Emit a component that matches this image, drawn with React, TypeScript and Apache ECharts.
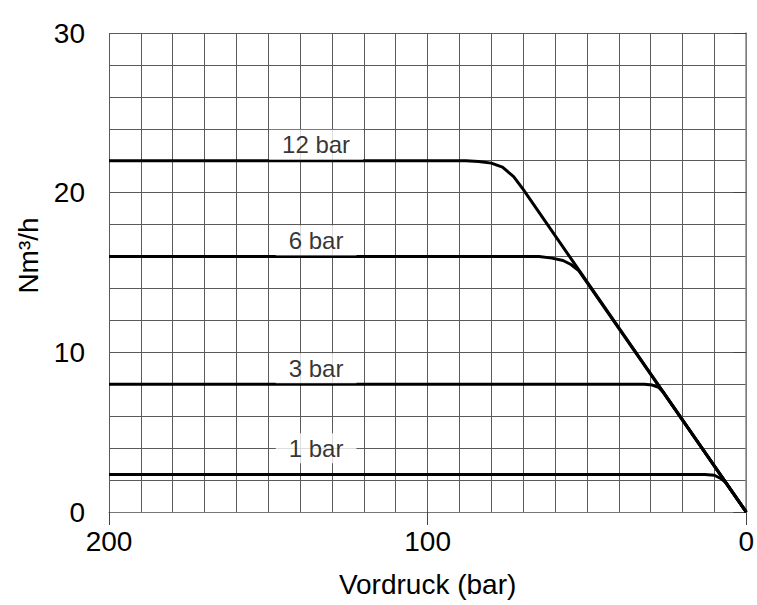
import React, { useEffect, useRef } from "react";
import * as echarts from "echarts";

// Vordruck (bar) and flow (Nm³/h) for each outlet pressure curve
const vordruck12 = [200, 88, 84, 80, 76.5, 73, 70, 0];
const flow12 = [22, 22, 21.95, 21.85, 21.6, 21.0, 20.2, 0];

const vordruck6 = [200, 65, 61, 57.5, 55, 52.5, 0];
const flow6 = [16, 16, 15.9, 15.75, 15.5, 15.1, 0];

const vordruck3 = [200, 32, 29.5, 27.5, 26, 0];
const flow3 = [8, 8, 7.95, 7.8, 7.5, 0];

const vordruck1 = [200, 13, 10, 8, 6.5, 0];
const flow1 = [2.35, 2.35, 2.3, 2.1, 1.85, 0];

const curveNames = ["12 bar", "6 bar", "3 bar", "1 bar"];
const labelX = [135, 135, 135, 135];
const labelY = [23, 17, 9, 4];

const xTicks = [0, 100, 200];
const yTicks = [0, 10, 20, 30];

const FONT = "'Liberation Sans', Arial, sans-serif";

function zip(xs: number[], ys: number[]) {
  return xs.map((x, i) => [x, ys[i]]);
}

export default function App() {
  const ref = useRef<HTMLDivElement>(null);

  useEffect(() => {
    if (!ref.current) return;
    const chart = echarts.init(ref.current, undefined, { renderer: "svg" });
    const curves = [
      zip(vordruck12, flow12),
      zip(vordruck6, flow6),
      zip(vordruck3, flow3),
      zip(vordruck1, flow1),
    ];
    const gridColor = "#5a5a5a";
    chart.setOption({
      animation: false,
      backgroundColor: "#ffffff",
      grid: { left: 109, right: 9, top: 33, bottom: 93, containLabel: false },
      xAxis: {
        type: "value",
        inverse: true,
        min: xTicks[0],
        max: xTicks[xTicks.length - 1],
        interval: 100,
        name: "Vordruck (bar)",
        nameLocation: "middle",
        nameGap: 58,
        nameTextStyle: { fontFamily: FONT, fontSize: 28, color: "#000" },
        axisLine: { show: true, lineStyle: { color: "#777", width: 1 } },
        axisTick: { show: true, length: 13, lineStyle: { color: "#444", width: 1 } },
        axisLabel: { fontFamily: FONT, fontSize: 28, color: "#000", margin: 15 },
        splitLine: { show: true, lineStyle: { color: gridColor, width: 1 } },
        minorTick: { show: false, splitNumber: 10 },
        minorSplitLine: { show: true, lineStyle: { color: gridColor, width: 1 } },
      },
      yAxis: {
        type: "value",
        min: yTicks[0],
        max: yTicks[yTicks.length - 1],
        interval: 10,
        name: "Nm³/h",
        nameLocation: "middle",
        nameGap: 62,
        nameTextStyle: { fontFamily: FONT, fontSize: 28, color: "#000", padding: [0, 0, 0, 34] },
        axisLine: { show: true, lineStyle: { color: "#888", width: 1.5 } },
        axisTick: { show: true, length: 13, lineStyle: { color: "#444", width: 1 } },
        axisLabel: { fontFamily: FONT, fontSize: 28, color: "#000", margin: 24 },
        splitLine: { show: true, lineStyle: { color: gridColor, width: 1 } },
        minorTick: { show: false, splitNumber: 5 },
        minorSplitLine: { show: true, lineStyle: { color: gridColor, width: 1 } },
      },
      series: [
        ...curves.map((data, i) => ({
          type: "line",
          name: curveNames[i],
          data,
          showSymbol: false,
          symbol: "none",
          lineStyle: { color: "#000", width: 3 },
          z: 3,
        })),
        {
          type: "scatter",
          data: curveNames.map((n, i) => [labelX[i], labelY[i], n]),
          symbolSize: 0,
          z: 4,
          label: {
            show: true,
            position: "inside",
            formatter: (p: any) => p.value[2],
            fontFamily: FONT,
            fontSize: 24,
            color: "#000",
            backgroundColor: "#fff",
            padding: [3, 13],
          },
        },
      ],
    });
    return () => chart.dispose();
  }, []);

  return <div ref={ref} style={{ width: 757, height: 605, position: "absolute", left: 0, top: 0 }} />;
}
